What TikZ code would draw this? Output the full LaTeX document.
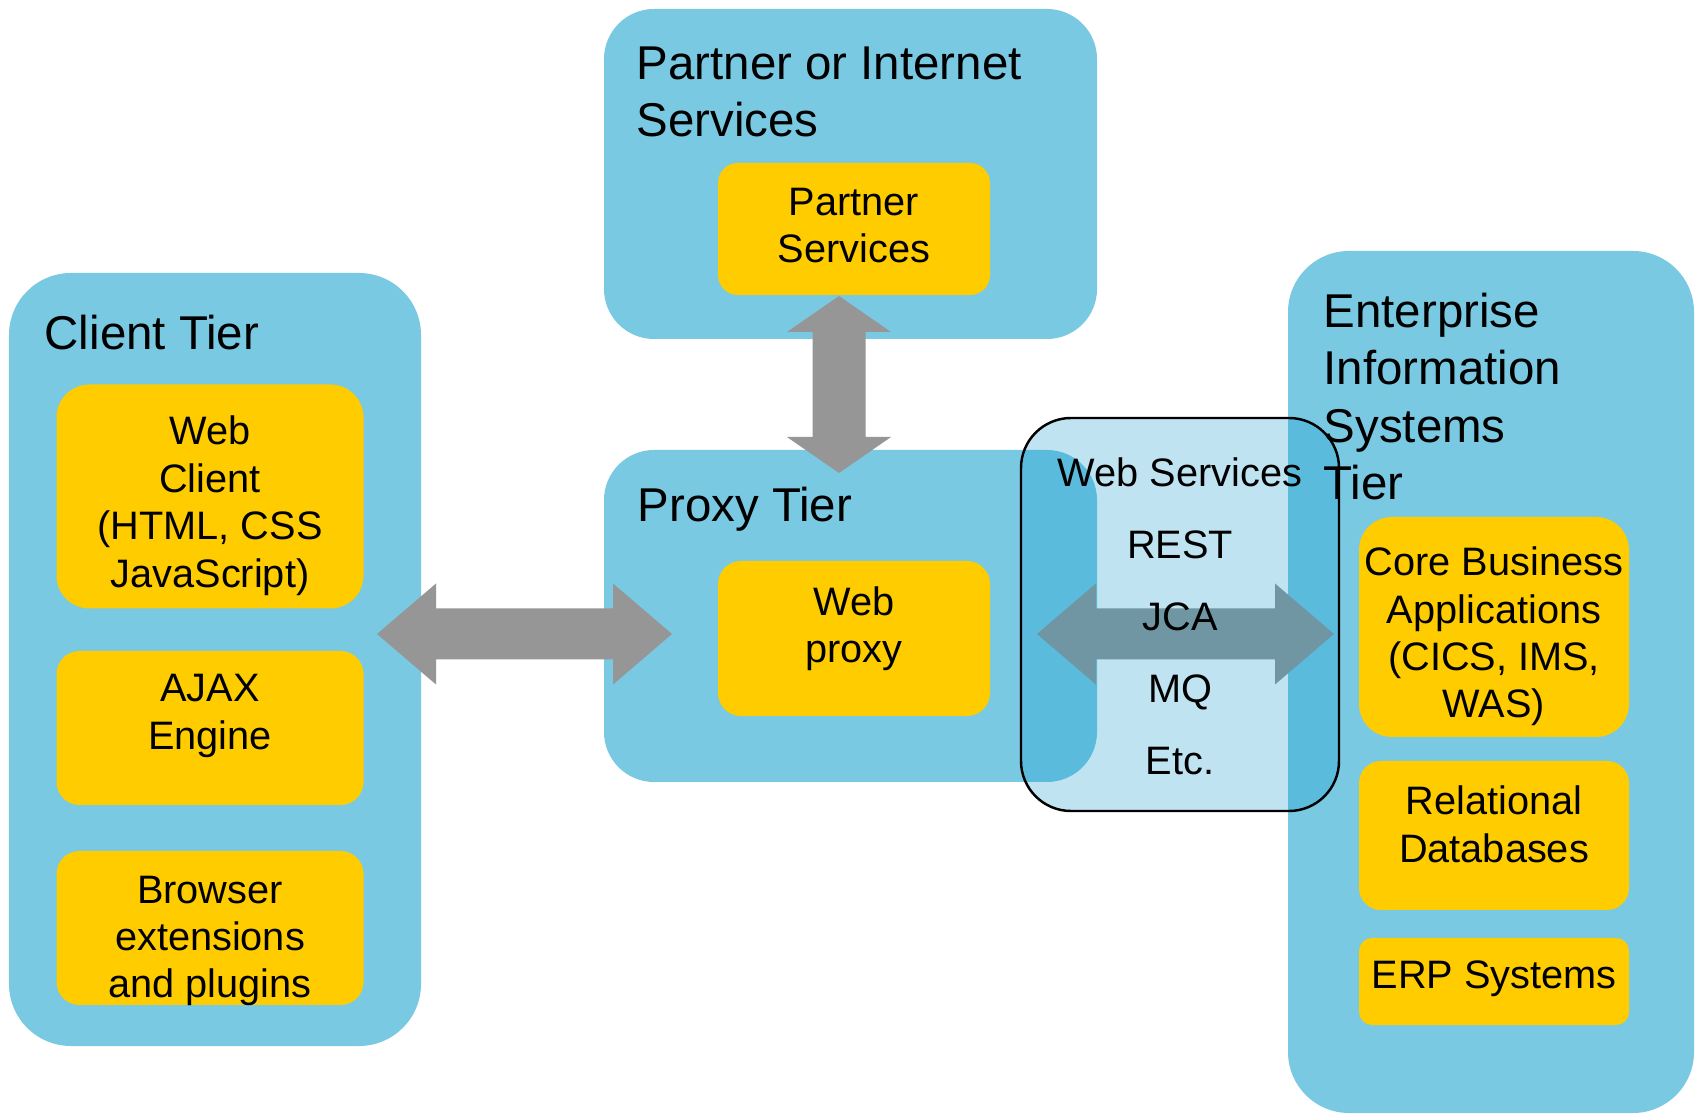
\documentclass[tikz,border=0pt]{standalone}
\usepackage{fontspec}
\setmainfont{Liberation Sans}
\usetikzlibrary{calc}
\definecolor{tierblue}{HTML}{7AC9E2}
\definecolor{boxyellow}{HTML}{FFCC00}
\definecolor{arrowgray}{HTML}{969696}
\definecolor{wsblue}{HTML}{0093CB}
% block arrow with two heads: from, to, head length, head half width, shaft half width
\newcommand{\dblarrow}[5]{
\coordinate (b1) at ($(#1)!#3!(#2)$);
\coordinate (b2) at ($(#2)!#3!(#1)$);
\fill[arrowgray] (#1) -- ($(b1)!#4!90:(#1)$) -- ($(b1)!#5!90:(#1)$)
  -- ($(b2)!#5!-90:(#2)$) -- ($(b2)!#4!-90:(#2)$) -- (#2)
  -- ($(b2)!#4!90:(#2)$) -- ($(b2)!#5!90:(#2)$)
  -- ($(b1)!#5!-90:(#1)$) -- ($(b1)!#4!-90:(#1)$) -- cycle;
}

\begin{document}
\begin{tikzpicture}[
  tierbox/.style={fill=tierblue, inner sep=0pt},
  ybox/.style={fill=boxyellow, inner sep=0pt},
  wsbox/.style={fill=wsblue, fill opacity=0.25, draw=black, line width=0.7pt,
    rounded corners=0.5cm, inner sep=0pt},
  tiertitle/.style={inner sep=0pt, align=left, anchor=base west,
    font=\fontsize{13.5pt}{16.4pt}\selectfont},
  ytext/.style={inner sep=0pt, align=center,
    font=\fontsize{11.3pt}{13.5pt}\selectfont},
  wstext/.style={inner sep=0pt, align=center, anchor=base,
    font=\fontsize{11.3pt}{20.5pt}\selectfont}]

\fill[white] (0,0) rectangle (17,11.14);
\useasboundingbox (0,0) rectangle (17,11.14);

% tiers
\node[tierbox, minimum width=4.12cm, minimum height=7.73cm, rounded corners=0.62cm] (client) at (2.15,4.545) {};
\node[tierbox, minimum width=4.93cm, minimum height=3.30cm, rounded corners=0.5cm] (partner) at (8.505,9.40) {};
\node[tierbox, minimum width=4.93cm, minimum height=3.32cm, rounded corners=0.5cm] (proxy) at (8.505,4.98) {};
\node[tierbox, minimum width=4.06cm, minimum height=8.62cm, rounded corners=0.61cm] (eis) at (14.91,4.32) {};

% yellow boxes
\node[ybox, minimum width=3.07cm, minimum height=2.24cm, rounded corners=0.33cm] (webclient) at (2.10,6.175) {};
\node[ybox, minimum width=3.07cm, minimum height=1.54cm, rounded corners=0.23cm] (ajax) at (2.10,3.86) {};
\node[ybox, minimum width=3.07cm, minimum height=1.54cm, rounded corners=0.23cm] (browser) at (2.10,1.86) {};
\node[ybox, minimum width=2.72cm, minimum height=1.32cm, rounded corners=0.2cm] (partnersvc) at (8.54,8.85) {};
\node[ybox, minimum width=2.72cm, minimum height=1.55cm, rounded corners=0.23cm] (webproxy) at (8.54,4.755) {};
\node[ybox, minimum width=2.70cm, minimum height=2.20cm, rounded corners=0.33cm] (core) at (14.94,4.87) {};
\node[ybox, minimum width=2.70cm, minimum height=1.49cm, rounded corners=0.22cm] (reldb) at (14.94,2.785) {};
\node[ybox, minimum width=2.70cm, minimum height=0.87cm, rounded corners=0.13cm] (erp) at (14.94,1.325) {};

% arrows
\coordinate (cl-a) at (3.77,4.80);
\coordinate (px-a) at (6.72,4.80);
\coordinate (ws-a) at (10.37,4.80);
\coordinate (ws-b) at (13.34,4.80);
\coordinate (pt-a) at (8.39,8.18);
\coordinate (pt-b) at (8.39,6.41);
\dblarrow{cl-a}{px-a}{0.59cm}{0.505cm}{0.255cm}
\dblarrow{ws-a}{ws-b}{0.59cm}{0.505cm}{0.255cm}
\dblarrow{pt-a}{pt-b}{0.36cm}{0.52cm}{0.265cm}

% web services
\node[wsbox, minimum width=3.18cm, minimum height=3.93cm] (ws) at (11.80,4.995) {};

% texts (base = last line)
\node[tiertitle] (clienttitle) at (0.44,7.64) {Client Tier};
\node[tiertitle] (partnertitle) at (6.36,9.77) {Partner or Internet\\Services};
\node[tiertitle] (proxytitle) at (6.37,5.92) {Proxy Tier};
\node[tiertitle] (eistitle) at (13.23,6.14) {Enterprise\\Information\\Systems\\Tier};

\node[ytext] (webclient-t) at (2.10,6.084) {Web\\Client\\(HTML, CSS\\JavaScript)};
\node[ytext] (ajax-t) at (2.10,3.98) {AJAX\\Engine};
\node[ytext] (browser-t) at (2.10,1.73) {Browser\\extensions\\and plugins};
\node[ytext] (partnersvc-t) at (8.54,8.887) {Partner\\Services};
\node[ytext] (webproxy-t) at (8.54,4.85) {Web\\proxy};
\node[ytext] (core-t) at (14.94,4.775) {Core Business\\Applications\\(CICS, IMS,\\WAS)};
\node[ytext] (reldb-t) at (14.94,2.895) {Relational\\Databases};
\node[ytext] (erp-t) at (14.94,1.35) {ERP Systems};

\node[wstext] (wslist) at (11.80,3.39) {Web Services\\REST\\JCA\\MQ\\Etc.};
\end{tikzpicture}
\end{document}
